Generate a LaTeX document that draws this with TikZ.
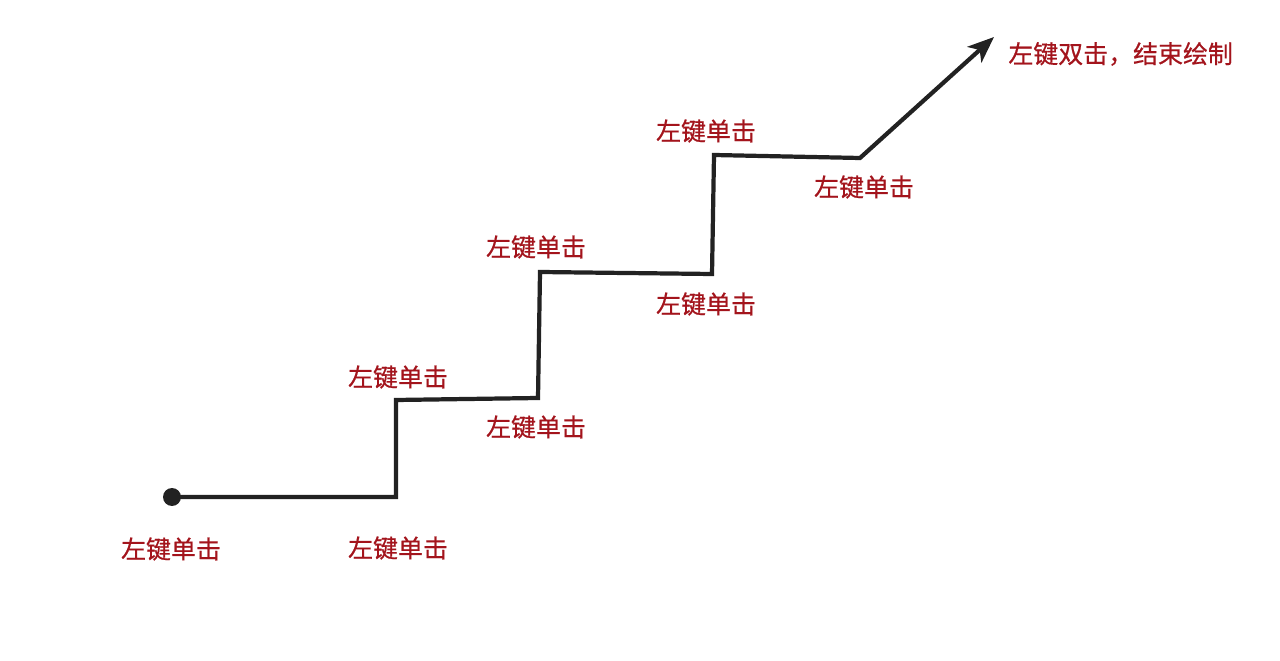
\documentclass[tikz,border=0pt]{standalone}
\usepackage{xcolor}
\usepackage{fontspec}
\usepackage{tikz}
\usetikzlibrary{arrows.meta}
\newfontfamily\cjkfont[FakeBold=0.6]{Noto Sans CJK SC}
\definecolor{clickred}{HTML}{A3141C}
\definecolor{penblack}{HTML}{222222}

\begin{document}
\begin{tikzpicture}[x=0.02cm, y=-0.02cm,
  clicklabel/.style={text=clickred, inner sep=0pt,
    font={\cjkfont\fontsize{14.2}{17}\selectfont}},
  penline/.style={draw=penblack, line width=2.4pt, line join=miter}]
\useasboundingbox (0,0) rectangle (1280,661);

% vertices of the polyline
\coordinate (start) at (172,497);
\coordinate (v1) at (396,497);
\coordinate (v2) at (396,400);
\coordinate (v3) at (538,398);
\coordinate (v4) at (540,272);
\coordinate (v5) at (712,274);
\coordinate (v6) at (714,155);
\coordinate (v7) at (860,158);
\coordinate (finish) at (994,37);

\draw[penline, -{Stealth[length=15pt, width=12pt, inset=4pt]}]
  (start) -- (v1) -- (v2) -- (v3) -- (v4) -- (v5) -- (v6) -- (v7) -- (finish);
\fill[penblack] (start) circle (0.18cm);

% click labels
\node[clicklabel] (lstart) at (171,549) {左键单击};
\node[clicklabel] (lv1) at (398,548) {左键单击};
\node[clicklabel] (lv2) at (398,377) {左键单击};
\node[clicklabel] (lv3) at (536,427) {左键单击};
\node[clicklabel] (lv4) at (536,247) {左键单击};
\node[clicklabel] (lv5) at (706,304) {左键单击};
\node[clicklabel] (lv6) at (706,131) {左键单击};
\node[clicklabel] (lv7) at (864,187) {左键单击};
\node[clicklabel, anchor=west] (lend) at (1008,54) {左键双击，结束绘制};
\end{tikzpicture}
\end{document}
